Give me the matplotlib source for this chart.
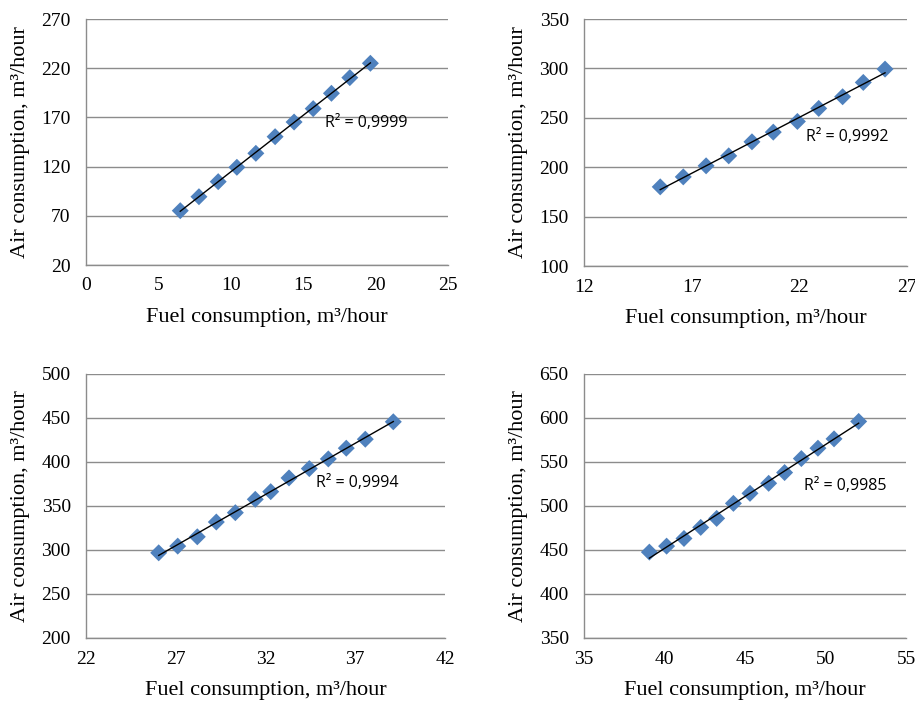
import numpy as np
import matplotlib
matplotlib.use("Agg")
import matplotlib.pyplot as plt

# Panel data (fuel consumption, air consumption)
fuel_1 = [6.51, 7.80, 9.13, 10.42, 11.73, 13.06, 14.37, 15.69, 16.95, 18.22, 19.64]
air_1 = [75.2, 89.4, 104.7, 119.3, 133.5, 150.4, 165.3, 178.9, 194.5, 210.4, 225.0]

fuel_2 = [15.54, 16.61, 17.67, 18.72, 19.80, 20.79, 21.91, 22.90, 24.01, 24.97, 25.98]
air_2 = [180.1, 190.2, 201.4, 211.5, 225.7, 235.5, 246.3, 259.5, 271.3, 285.8, 299.3]

fuel_3 = [26.05, 27.11, 28.20, 29.26, 30.32, 31.43, 32.29, 33.31, 34.44, 35.50, 36.50, 37.56, 39.12]
air_3 = [296.8, 304.4, 315.0, 331.8, 342.4, 357.6, 366.3, 381.9, 392.5, 403.5, 415.7, 425.9, 445.7]

fuel_4 = [39.06, 40.13, 41.21, 42.25, 43.24, 44.28, 45.31, 46.47, 47.46, 48.50, 49.53, 50.53, 52.06]
air_4 = [447.6, 454.4, 463.1, 475.7, 485.9, 503.0, 514.4, 525.8, 538.0, 553.9, 565.7, 576.3, 596.1]

r2_labels = ["R² = 0,9999", "R² = 0,9992", "R² = 0,9994", "R² = 0,9985"]

xticks_1 = [0, 5, 10, 15, 20, 25]
yticks_1 = [20, 70, 120, 170, 220, 270]
xticks_2 = [12, 17, 22, 27]
yticks_2 = [100, 150, 200, 250, 300, 350]
xticks_3 = [22, 27, 32, 37, 42]
yticks_3 = [200, 250, 300, 350, 400, 450, 500]
xticks_4 = [35, 40, 45, 50, 55]
yticks_4 = [350, 400, 450, 500, 550, 600, 650]

xlabel = "Fuel consumption, m³/hour"
ylabel = "Air consumption, m³/hour"

W, H = 915, 704
fig = plt.figure(figsize=(W / 100, H / 100), dpi=100)

def rect(l, r, t, b):
    return [l / W, 1 - b / H, (r - l) / W, (b - t) / H]

panels = [
    (rect(86, 448, 19, 265), fuel_1, air_1, xticks_1, yticks_1, r2_labels[0], (0.66, 0.577)),
    (rect(584, 907, 19, 266), fuel_2, air_2, xticks_2, yticks_2, r2_labels[1], (0.687, 0.522)),
    (rect(86, 445, 374, 638), fuel_3, air_3, xticks_3, yticks_3, r2_labels[2], (0.64, 0.587)),
    (rect(584, 906, 374, 638), fuel_4, air_4, xticks_4, yticks_4, r2_labels[3], (0.683, 0.576)),
]

serif = "Liberation Serif"
grid_color = "#8c8c8c"
marker_color = "#4F81BD"

for r, fx, ay, xt, yt, r2, tpos in panels:
    ax = fig.add_axes(r)
    fx = np.array(fx); ay = np.array(ay)
    ax.set_xlim(xt[0], xt[-1])
    ax.set_ylim(yt[0], yt[-1])
    ax.set_xticks(xt)
    ax.set_yticks(yt)
    for y in yt:
        ax.axhline(y, color=grid_color, lw=1.0, zorder=1)
    for s in ["top", "right"]:
        ax.spines[s].set_visible(False)
    for s in ["left", "bottom"]:
        ax.spines[s].set_color(grid_color)
        ax.spines[s].set_linewidth(1.0)
    ax.tick_params(axis="y", length=0, pad=11, labelsize=14, colors="black")
    ax.tick_params(axis="x", length=0, pad=9, labelsize=14, colors="black")
    for lab in ax.get_xticklabels() + ax.get_yticklabels():
        lab.set_fontfamily(serif)
    ax.scatter(fx, ay, marker="D", s=75, color=marker_color, edgecolors="none", zorder=3)
    k, b = np.polyfit(fx, ay, 1)
    xs = np.array([fx.min(), fx.max()])
    ax.plot(xs, k * xs + b, color="black", lw=1.0, zorder=4)
    ax.text(tpos[0], tpos[1], r2, transform=ax.transAxes, fontsize=11.5,
            family="Open Sans", va="center", ha="left", zorder=5)
    ax.set_xlabel(xlabel, fontsize=16, family=serif, labelpad=10)
    ax.set_ylabel(ylabel, fontsize=16, family=serif, labelpad=8)

fig.savefig("out.png", dpi=100)
